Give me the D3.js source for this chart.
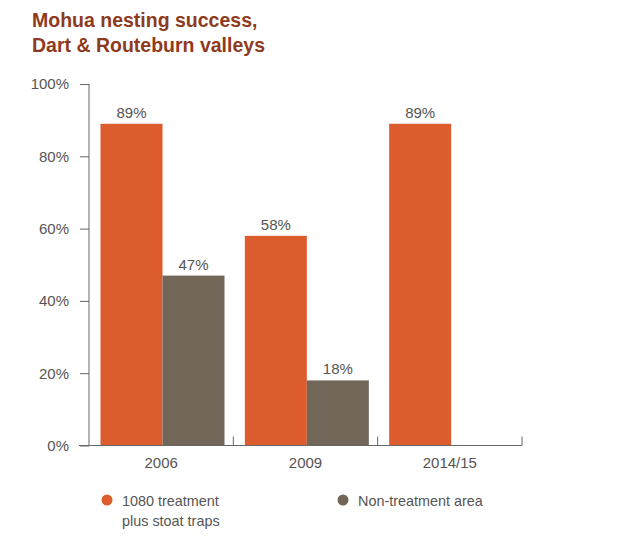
<!DOCTYPE html>
<html lang="en">
<head>
<meta charset="UTF-8">
<title>Mohua nesting success</title>
<style>
    body { margin: 0; padding: 0; background: #fff; }
    svg text { font-family: "Liberation Sans", Arial, sans-serif; }
    .tick-label { font-size: 15px; fill: #555; }
    .legend-label { font-size: 14.4px; fill: #555; }
    .title { font-size: 19.5px; font-weight: bold; fill: #8f3a1c; }
</style>
</head>
<body>
<svg id="chart" width="618" height="553"></svg>
<script src="https://d3js.org/d3.v7.min.js"></script>
<script>
    var categories = ["2006", "2009", "2014/15"];
    var series = ["1080 treatment plus stoat traps", "Non-treatment area"];
    var treated = [89, 58, 89];
    var untreated = [47, 18, null];
    var yTicks = [0, 20, 40, 60, 80, 100];
    var colors = ["#dd5c2e", "#726658"];

    var svg = d3.select("#chart");

    var x0 = d3.scaleBand().domain(categories).range([89, 522]).paddingInner(0);
    var x1 = d3.scaleBand().domain(series).range([11.5, 135.5]);
    var y = d3.scaleLinear().domain([0, 100]).range([445.5, 84]);

    // title
    var title = svg.append("text").attr("class", "title");
    title.append("tspan").attr("x", 32).attr("y", 27).text("Mohua nesting success,");
    title.append("tspan").attr("x", 32).attr("y", 52).text("Dart & Routeburn valleys");

    // bars
    var data = [];
    categories.forEach(function (c, i) {
        [treated[i], untreated[i]].forEach(function (v, j) {
            if (v != null) data.push({cat: c, s: series[j], idx: j, value: v});
        });
    });

    svg.selectAll("rect.bar")
        .data(data)
        .enter()
        .append("rect")
        .attr("class", "bar")
        .attr("x", function (d) { return x0(d.cat) + x1(d.s); })
        .attr("y", function (d) { return y(d.value); })
        .attr("width", x1.bandwidth())
        .attr("height", function (d) { return y(0) - y(d.value); })
        .attr("fill", function (d) { return colors[d.idx]; });

    svg.selectAll("text.val")
        .data(data)
        .enter()
        .append("text")
        .attr("class", "tick-label")
        .attr("x", function (d) { return x0(d.cat) + x1(d.s) + x1.bandwidth() / 2; })
        .attr("y", function (d) { return y(d.value) - 6; })
        .attr("text-anchor", "middle")
        .text(function (d) { return d.value + "%"; });

    // y axis
    var yAxis = svg.append("g")
        .attr("transform", "translate(89,0)")
        .call(d3.axisLeft(y).tickValues(yTicks).tickSize(9).tickPadding(11)
            .tickFormat(function (d) { return d + "%"; }));
    yAxis.select(".domain").attr("stroke", "#666").attr("d", "M0," + y(100) + "V" + y(0));
    yAxis.selectAll(".tick line").attr("stroke", "#666");
    yAxis.selectAll(".tick text").attr("class", "tick-label").attr("fill", null)
        .attr("font-family", null).attr("font-size", null);

    // x axis
    var xAxis = svg.append("g")
        .attr("transform", "translate(0," + y(0) + ")")
        .call(d3.axisBottom(x0).tickSize(0).tickPadding(12));
    xAxis.select(".domain").attr("stroke", "#666").attr("d", "M79,0H522");
    xAxis.selectAll(".tick text").attr("class", "tick-label").attr("fill", null)
        .attr("font-family", null).attr("font-size", null);

    // boundary ticks between categories
    var bounds = categories.slice(1).map(function (c) { return x0(c); }).concat([x0.range()[1]]);
    xAxis.selectAll("line.bound")
        .data(bounds)
        .enter()
        .append("line")
        .attr("x1", function (d) { return d; })
        .attr("x2", function (d) { return d; })
        .attr("y1", 0)
        .attr("y2", -9)
        .attr("stroke", "#666");

    // legend
    var legend = [
        {lines: ["1080 treatment", "plus stoat traps"], x: 107, color: colors[0]},
        {lines: ["Non-treatment area"], x: 343, color: colors[1]}
    ];
    var lg = svg.selectAll("g.legend")
        .data(legend)
        .enter()
        .append("g")
        .attr("class", "legend");
    lg.append("circle")
        .attr("cx", function (d) { return d.x; })
        .attr("cy", 500)
        .attr("r", 5.5)
        .attr("fill", function (d) { return d.color; });
    lg.each(function (d) {
        var t = d3.select(this).append("text").attr("class", "legend-label");
        d.lines.forEach(function (l, i) {
            t.append("tspan").attr("x", d.x + 15).attr("y", 506 + i * 20).text(l);
        });
    });
</script>
</body>
</html>
